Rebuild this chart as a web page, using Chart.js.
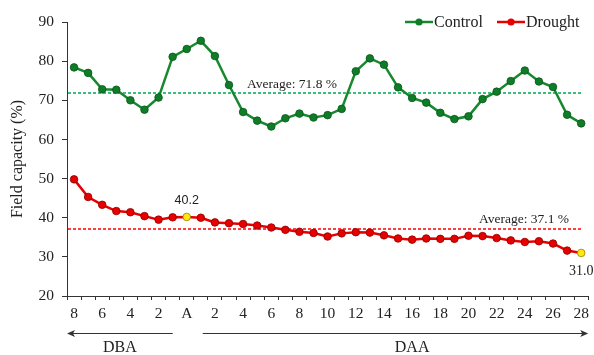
<!DOCTYPE html>
<html>
<head>
<meta charset="utf-8">
<script src="https://cdn.jsdelivr.net/npm/chart.js@4/dist/chart.umd.min.js"></script>
<style>
  html, body { margin: 0; padding: 0; background: #fff; }
  #c { display: block; }
</style>
</head>
<body>
<canvas id="c" width="594" height="355"></canvas>
<script>
// Days before (DBA) and after (DAA) the anthesis day "A"
const categories = ['8','7','6','5','4','3','2','1','A',
  '1','2','3','4','5','6','7','8','9','10','11','12','13','14',
  '15','16','17','18','19','20','21','22','23','24','25','26','27','28'];

// Field capacity (%)
const control = [78.4, 77.0, 72.8, 72.7, 70.0, 67.6, 70.7, 81.1, 83.1,
  85.2, 81.3, 73.9, 67.0, 64.8, 63.3, 65.4, 66.6, 65.6, 66.2, 67.8, 77.4,
  80.7, 79.1, 73.3, 70.6, 69.4, 66.8, 65.2, 65.9, 70.3, 72.2, 74.9, 77.6,
  74.8, 73.4, 66.3, 64.1];
const drought = [49.8, 45.3, 43.3, 41.7, 41.4, 40.4, 39.5, 40.1, 40.2,
  40.0, 38.8, 38.6, 38.4, 38.0, 37.5, 36.9, 36.4, 36.1, 35.2, 36.0, 36.3,
  36.2, 35.5, 34.7, 34.4, 34.7, 34.6, 34.6, 35.4, 35.3, 34.8, 34.2, 33.8,
  34.0, 33.4, 31.6, 31.0];

const controlAverage = 71.8;
const droughtAverage = 37.1;

// Highlighted drought points (anthesis day and last day)
const highlighted = [8, 36];

// Y axis ticks
const yMin = 20, yMax = 90, yStep = 10;

const SERIF = "'Liberation Serif', 'Times New Roman', serif";
const SANS = "'Liberation Sans', Arial, sans-serif";
const TEXT = '#222';
const AXIS = '#333';

const GREEN = '#16892e';
const GREEN_POINT = '#0f7d27';
const GREEN_DARK = '#0a551a';
const GREEN_AVG = '#3cbf7a';
const RED = '#e60000';
const RED_DARK = '#8c0000';
const RED_AVG = '#ff0000';
const YELLOW = '#ffe812';

const droughtFill = drought.map((_, i) => highlighted.includes(i) ? YELLOW : RED);
const droughtBorder = drought.map((_, i) => highlighted.includes(i) ? '#9a7c00' : RED_DARK);

const overlay = {
  id: 'overlay',
  beforeDatasetsDraw(chart) {
    const { ctx, chartArea } = chart;
    const x = chart.scales.x, y = chart.scales.y;
    const xEnd = x.getPixelForValue(categories.length - 1);
    const lines = [
      { v: controlAverage, color: GREEN_AVG, w: 2 },
      { v: droughtAverage, color: RED_AVG, w: 1.6 }
    ];
    ctx.save();
    ctx.setLineDash([3, 2]);
    lines.forEach(l => {
      const py = Math.round(y.getPixelForValue(l.v));
      ctx.strokeStyle = l.color;
      ctx.lineWidth = l.w;
      ctx.beginPath();
      ctx.moveTo(chartArea.left + 1, py);
      ctx.lineTo(xEnd, py);
      ctx.stroke();
    });
    ctx.restore();
  },
  afterDraw(chart) {
    const { ctx, chartArea } = chart;
    const x = chart.scales.x, y = chart.scales.y;
    ctx.save();

    // Average labels
    ctx.fillStyle = TEXT;
    ctx.font = `13.5px ${SERIF}`;
    ctx.textAlign = 'center';
    ctx.textBaseline = 'alphabetic';
    ctx.fillText(`Average: ${controlAverage.toFixed(1)} %`, 292,
      y.getPixelForValue(controlAverage) - 5);
    ctx.fillText(`Average: ${droughtAverage.toFixed(1)} %`, 524,
      y.getPixelForValue(droughtAverage) - 6);

    // Value labels of highlighted points
    const a = highlighted[0], last = highlighted[1];
    ctx.font = `12.5px ${SANS}`;
    ctx.textBaseline = 'middle';
    ctx.fillText(drought[a].toFixed(1), x.getPixelForValue(a),
      y.getPixelForValue(drought[a]) - 16);
    ctx.font = `14px ${SERIF}`;
    ctx.fillText(drought[last].toFixed(1), x.getPixelForValue(last),
      y.getPixelForValue(drought[last]) + 18);

    // Legend
    const items = [
      { label: chart.data.datasets[0].label, color: GREEN, dot: GREEN_POINT, x0: 405 },
      { label: chart.data.datasets[1].label, color: RED, dot: RED, x0: 497 }
    ];
    const ly = 22;
    ctx.textAlign = 'left';
    ctx.font = `16px ${SERIF}`;
    items.forEach(it => {
      ctx.strokeStyle = it.color;
      ctx.lineWidth = 2.5;
      ctx.beginPath();
      ctx.moveTo(it.x0, ly);
      ctx.lineTo(it.x0 + 28, ly);
      ctx.stroke();
      ctx.fillStyle = it.dot;
      ctx.beginPath();
      ctx.arc(it.x0 + 14, ly, 3.6, 0, Math.PI * 2);
      ctx.fill();
      ctx.fillStyle = TEXT;
      ctx.fillText(it.label, it.x0 + 29, ly + 1);
    });

    // DBA / DAA arrows
    const ay = 333.5;
    const ax = x.getPixelForValue(8);
    const leftEnd = ax - 14, rightStart = ax + 16;
    ctx.strokeStyle = AXIS;
    ctx.fillStyle = AXIS;
    ctx.lineWidth = 1;
    ctx.beginPath();
    ctx.moveTo(leftEnd, ay);
    ctx.lineTo(chartArea.left + 5, ay);
    ctx.moveTo(rightStart, ay);
    ctx.lineTo(chartArea.right - 5, ay);
    ctx.stroke();
    ctx.beginPath();
    ctx.moveTo(chartArea.left, ay);
    ctx.lineTo(chartArea.left + 8, ay - 3.5);
    ctx.lineTo(chartArea.left + 6, ay);
    ctx.lineTo(chartArea.left + 8, ay + 3.5);
    ctx.closePath();
    ctx.fill();
    ctx.beginPath();
    ctx.moveTo(chartArea.right, ay);
    ctx.lineTo(chartArea.right - 8, ay - 3.5);
    ctx.lineTo(chartArea.right - 6, ay);
    ctx.lineTo(chartArea.right - 8, ay + 3.5);
    ctx.closePath();
    ctx.fill();

    ctx.fillStyle = TEXT;
    ctx.font = `16px ${SERIF}`;
    ctx.textAlign = 'center';
    ctx.textBaseline = 'middle';
    ctx.fillText('DBA', (chartArea.left + leftEnd) / 2, 348);
    ctx.fillText('DAA', x.getPixelForValue(24), 348);

    ctx.restore();
  }
};

new Chart(document.getElementById('c'), {
  type: 'line',
  data: {
    labels: categories,
    datasets: [
      {
        label: 'Control',
        data: control,
        borderColor: GREEN,
        borderWidth: 2.5,
        pointRadius: 3.8,
        pointBorderWidth: 0.8,
        pointBackgroundColor: GREEN_POINT,
        pointBorderColor: GREEN_DARK,
        tension: 0
      },
      {
        label: 'Drought',
        data: drought,
        borderColor: RED,
        borderWidth: 2.5,
        pointRadius: 3.8,
        pointBorderWidth: 0.8,
        pointBackgroundColor: droughtFill,
        pointBorderColor: droughtBorder,
        tension: 0
      }
    ]
  },
  options: {
    responsive: false,
    devicePixelRatio: 1,
    animation: false,
    layout: { padding: { top: 22, right: 4, left: 0, bottom: 0 } },
    plugins: {
      legend: { display: false },
      tooltip: { enabled: false }
    },
    scales: {
      x: {
        offset: true,
        afterFit(scale) { scale.height = 59; },
        border: { display: true, color: AXIS, width: 1 },
        grid: {
          offset: true,
          drawOnChartArea: false,
          drawTicks: true,
          tickLength: 4,
          color: AXIS
        },
        ticks: {
          autoSkip: false,
          maxRotation: 0,
          padding: 5,
          color: TEXT,
          font: { family: SERIF, size: 15.5 },
          callback(value, index) { return index % 2 === 0 ? categories[index] : ''; }
        }
      },
      y: {
        min: yMin,
        max: yMax,
        afterFit(scale) { scale.width = 67; },
        border: { display: true, color: AXIS, width: 1 },
        grid: {
          drawOnChartArea: false,
          drawTicks: true,
          tickLength: 5,
          color: AXIS
        },
        ticks: {
          stepSize: yStep,
          padding: 8,
          color: TEXT,
          font: { family: SERIF, size: 15.5 }
        },
        title: {
          display: true,
          text: 'Field capacity (%)',
          color: TEXT,
          font: { family: SERIF, size: 16 },
          padding: { top: 8, bottom: 0 }
        }
      }
    }
  },
  plugins: [overlay]
});
</script>
</body>
</html>
